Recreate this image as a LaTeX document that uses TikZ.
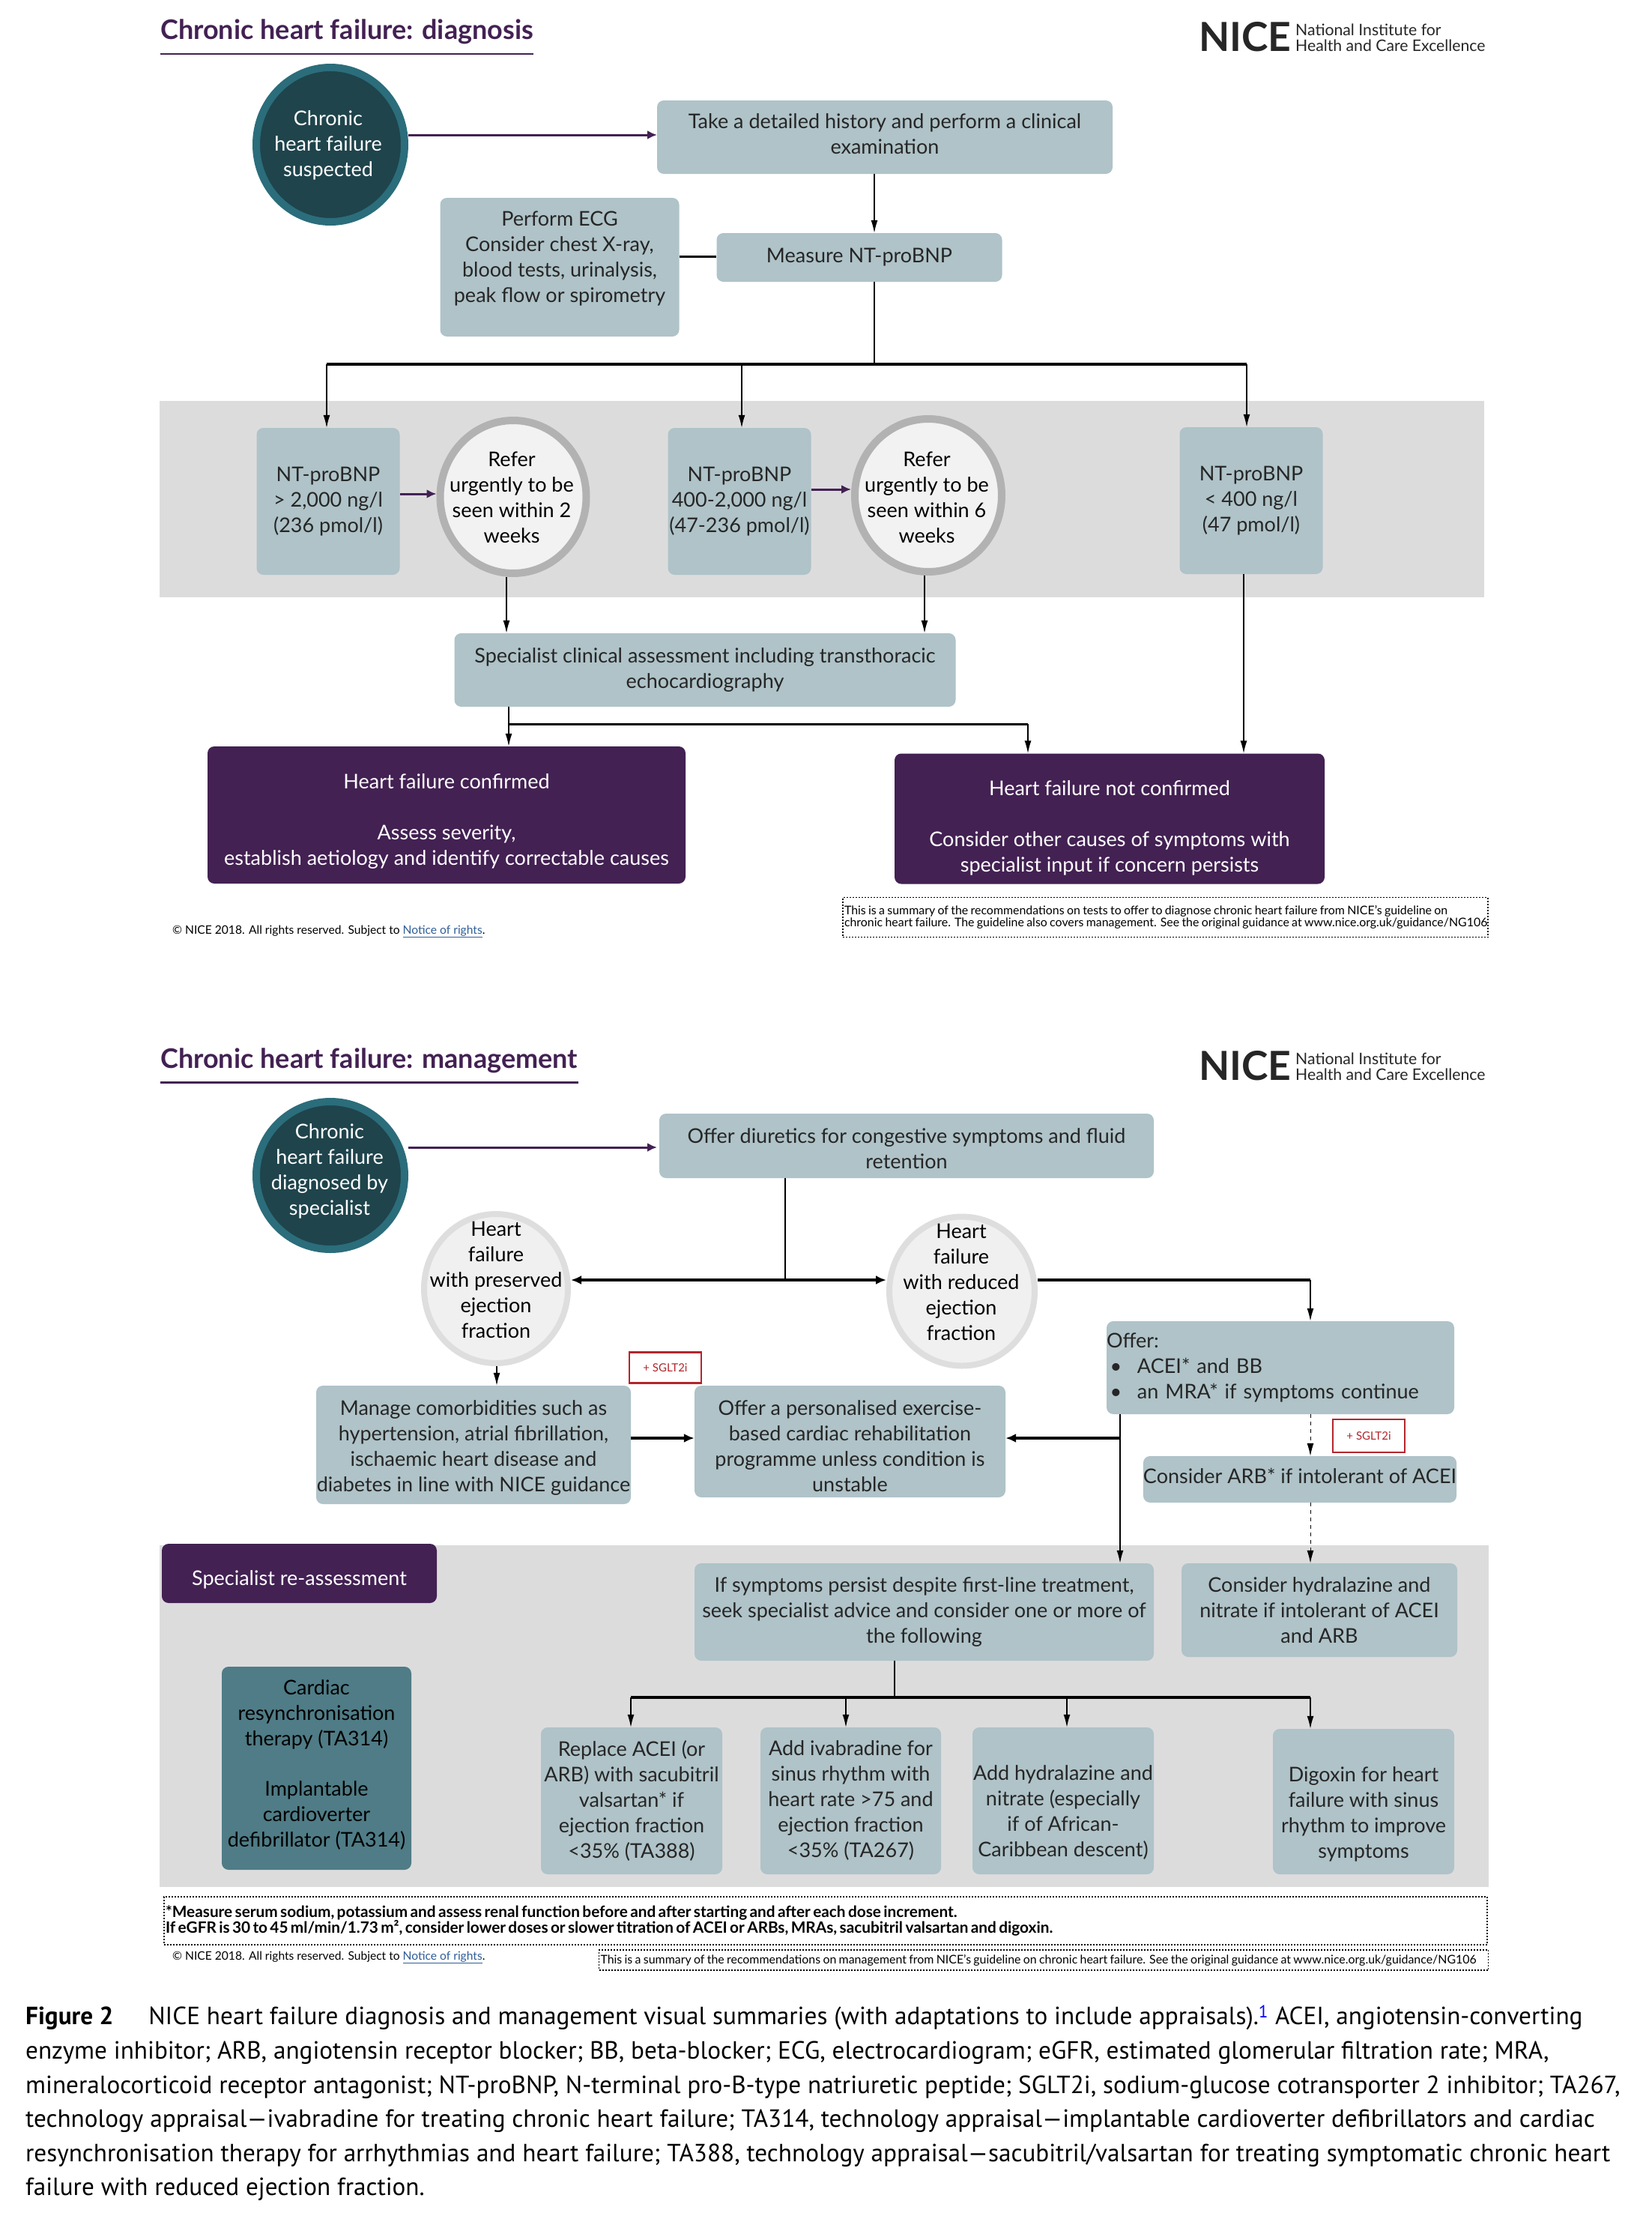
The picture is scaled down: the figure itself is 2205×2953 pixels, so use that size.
\documentclass[tikz,border=0pt]{standalone}
\usepackage{fontspec}
\setmainfont{Lato}
\newfontfamily\capfont{PT Sans}
\usepackage{tikz}
\usetikzlibrary{shapes.geometric,arrows.meta}

\definecolor{nicepurple}{HTML}{432153}
\definecolor{niceteal}{HTML}{AFC3C8}
\definecolor{panelgrey}{HTML}{DDDCDD}
\definecolor{darkcore}{HTML}{1F444C}
\definecolor{darkring}{HTML}{2B6D7B}
\definecolor{midteal}{HTML}{4F7C86}
\definecolor{linkblue}{HTML}{2F5D97}
\definecolor{sgltred}{HTML}{B3262C}

\tikzset{
	body/.style={font=\fontsize{27}{34}\selectfont, text=black!85, align=center, inner sep=0pt},
	tealbox/.style={body, fill=niceteal, rounded corners=9pt},
	darktealbox/.style={tealbox, fill=midteal, text=black},
	purplebox/.style={body, fill=nicepurple, text=white, rounded corners=9pt},
	panel/.style={fill=panelgrey, inner sep=0pt},
	startring/.style={ellipse, draw=darkring, fill=darkcore, line width=10pt, inner sep=0pt},
	referring/.style={ellipse, draw=black!30, fill=black!5, line width=10pt, inner sep=0pt},
	typering/.style={ellipse, draw=black!13, fill=black!6, line width=8pt, inner sep=0pt},
	whitetxt/.style={body, text=white},
	blacktxt/.style={body, text=black},
	titletxt/.style={font=\fontsize{36}{44}\selectfont\bfseries, text=nicepurple, anchor=west, inner sep=0pt},
	logoword/.style={font=\fontsize{53.5}{55}\selectfont\bfseries, text=black!85, anchor=west, inner sep=0pt},
	logotag/.style={font=\fontsize{21.2}{21}\selectfont, text=black!85, anchor=west, align=left, inner sep=0pt},
	notebox/.style={draw=black, line width=1.5pt, dash pattern=on 2pt off 2pt, align=left, inner sep=0pt},
	rights/.style={font=\fontsize{15.6}{18}\selectfont, anchor=west, inner sep=0pt},
	redbox/.style={draw=sgltred, fill=white, line width=2.5pt, text=sgltred, font=\fontsize{15}{18}\selectfont, inner sep=0pt},
	thinline/.style={draw=black, line width=1.4pt},
	heavyline/.style={draw=black, line width=3.5pt},
	arr/.style={thinline, -{Latex[length=17pt,width=9pt]}},
	heavyarr/.style={heavyline, -{Latex[length=14pt,width=12pt]}},
	purplearr/.style={draw=nicepurple, line width=3pt, -{Latex[length=13pt,width=12pt]}},
	dotarr/.style={draw=black, line width=1pt, dash pattern=on 5pt off 5pt, -{Latex[length=17pt,width=9pt]}},
}

\begin{document}
\begin{tikzpicture}[x=1pt, y=-1pt]
	\useasboundingbox (0,0) rectangle (2205,2953);

	\node[titletxt] (titleA) at (214,42) {Chronic heart failure: diagnosis};
	\draw[draw=nicepurple, line width=2pt] (214,72) -- (712,72);
	\node[logoword] (niceA) at (1600,49) {NICE};
	\node[logotag] (tagA) at (1729,50) {National Institute for\\Health and Care Excellence};

	\node[panel, minimum width=1768, minimum height=261.5] (panelA) at (1097,665.75) {};

	\node[startring, minimum width=198, minimum height=206] (suspected) at (441,193) {};
	\node[whitetxt] (suspectedText) at (438,194) {Chronic\\heart failure\\suspected};
	\node[tealbox, minimum width=608, minimum height=98] (history) at (1181,183) {Take a detailed history and perform a clinical\\examination\\[-26pt]\mbox{}};
	\node[tealbox, minimum width=319, minimum height=185] (ecg) at (747,356.5) {Perform ECG\\Consider chest X-ray,\\blood tests, urinalysis,\\peak flow or spirometry\\[-6pt]\mbox{}};
	\node[tealbox, minimum width=381, minimum height=65] (measure) at (1147,343.5) {Measure NT-proBNP};

	\node[tealbox, minimum width=191, minimum height=196] (highBnp) at (438,669) {NT-proBNP\\> 2,000 ng/l\\(236 pmol/l)};
	\node[referring, minimum width=195, minimum height=204] (referA) at (685,663) {};
	\node[blacktxt] (referAText) at (683,664) {Refer\\urgently to be\\seen within 2\\weeks};
	\node[tealbox, minimum width=191, minimum height=196] (midBnp) at (987,669) {NT-proBNP\\400-2,000 ng/l\\(47-236 pmol/l)};
	\node[referring, minimum width=196, minimum height=204] (referB) at (1239,661) {};
	\node[blacktxt] (referBText) at (1237,664) {Refer\\urgently to be\\seen within 6\\weeks};
	\node[tealbox, minimum width=191, minimum height=196] (lowBnp) at (1670,668) {NT-proBNP\\< 400 ng/l\\(47 pmol/l)};

	\node[tealbox, minimum width=669, minimum height=98] (echo) at (941,894) {Specialist clinical assessment including transthoracic\\echocardiography};
	\node[purplebox, minimum width=638, minimum height=183] (confirmed) at (596,1087.5) {\rule{0pt}{37pt}Heart failure confirmed\\[34pt]Assess severity,\\establish aetiology and identify correctable causes};
	\node[purplebox, minimum width=574, minimum height=174] (notconfirmed) at (1481,1092.5) {\rule{0pt}{44pt}Heart failure not confirmed\\[34pt]Consider other causes of symptoms with\\specialist input if concern persists};

	\node[notebox, minimum width=861, minimum height=53, text width=857] (summaryA) at (1555.5,1224) {\fontsize{15.9}{20}\selectfont\mbox{This is a summary of the recommendations on tests to offer to diagnose chronic heart failure from NICE's guideline on}\\\mbox{chronic heart failure. The guideline also covers management. See the original guidance at www.nice.org.uk/guidance/NG106}};
	\node[rights] (rightsA) at (230,1243) {© NICE 2018. All rights reserved. Subject to \textcolor{linkblue}{\underline{Notice of rights}}.};

	\coordinate (entryA) at (877,180);
	\coordinate (busA) at (1167,486);
	\coordinate (busAleft) at (436,486);
	\coordinate (busAmid) at (990,486);
	\coordinate (busAright) at (1664,486);
	\coordinate (linkA) at (1167,342);
	\coordinate (leftDrop) at (676,0);
	\coordinate (rightDrop) at (1234,0);
	\coordinate (farDrop) at (1660,0);
	\coordinate (forkA) at (679,966);
	\coordinate (forkB) at (1372,966);

	\draw[purplearr] (entryA -| suspected.east) -- (entryA);
	\draw[arr] (history.south -| busA) -- (measure.north -| busA);
	\draw[heavyline, line width=3pt] (ecg.east |- linkA) -- (measure.west |- linkA);
	\draw[thinline] (measure.south -| busA) -- (busA);
	\draw[heavyline] (busAleft) -- (busAright);
	\draw[arr] (busAleft) -- (busAleft |- highBnp.north);
	\draw[arr] (busAmid) -- (busAmid |- midBnp.north);
	\draw[arr] (busAright) -- (busAright |- lowBnp.north);
	\draw[purplearr] (highBnp.east |- 0,659) -- (referA.west |- 0,659);
	\draw[purplearr] (midBnp.east |- 0,653) -- (referB.west |- 0,653);
	\draw[arr] (leftDrop |- referA.south) -- (leftDrop |- echo.north);
	\draw[arr] (rightDrop |- referB.south) -- (rightDrop |- echo.north);
	\draw[arr] (farDrop |- lowBnp.south) -- (farDrop |- notconfirmed.north);
	\draw[arr] (forkA |- echo.south) -- (forkA |- confirmed.north);
	\draw[heavyline, line width=3pt] (forkA) -- (forkB);
	\draw[arr] (forkB) -- (forkB |- notconfirmed.north);

	\node[titletxt] (titleB) at (214,1415) {Chronic heart failure: management};
	\draw[draw=nicepurple, line width=3pt] (214,1444) -- (772,1444);
	\node[logoword] (niceB) at (1600,1422) {NICE};
	\node[logotag] (tagB) at (1729,1423) {National Institute for\\Health and Care Excellence};

	\node[panel, minimum width=1774, minimum height=456] (panelB) at (1100,2290) {};

	\node[startring, minimum width=198, minimum height=197] (diagnosed) at (441,1568.5) {};
	\node[whitetxt] (diagnosedText) at (440,1563) {Chronic\\heart failure\\diagnosed by\\specialist};
	\node[tealbox, minimum width=660, minimum height=86] (diuretics) at (1210,1529) {\rule{0pt}{27pt}Offer diuretics for congestive symptoms and fluid\\retention};
	\node[typering, minimum width=192, minimum height=199] (preserved) at (662,1719.5) {};
	\node[blacktxt] (preservedText) at (662,1708) {Heart\\failure\\with preserved\\ejection\\fraction};
	\node[typering, minimum width=194, minimum height=199] (reduced) at (1284,1723) {};
	\node[blacktxt] (reducedText) at (1283,1711) {Heart\\failure\\with reduced\\ejection\\fraction};
	\node[tealbox, minimum width=464, minimum height=124, text width=464, align=left] (offer) at (1709,1825) {Offer:\\\makebox[41pt][l]{\,\textbullet}ACEI* and BB\\\makebox[41pt][l]{\,\textbullet}an MRA* if symptoms continue};
	\node[redbox, minimum width=96, minimum height=41] (sgltA) at (888,1825) {+ SGLT2i};
	\node[redbox, minimum width=96, minimum height=44] (sgltB) at (1827,1916) {+ SGLT2i};
	\node[tealbox, minimum width=416, minimum height=62] (arb) at (1735,1974) {Consider ARB* if intolerant of ACEI\\[-24pt]\mbox{}};
	\node[tealbox, minimum width=420, minimum height=158] (comorbid) at (632,1928) {\rule{0pt}{28pt}Manage comorbidities such as\\hypertension, atrial fibrillation,\\ischaemic heart disease and\\diabetes in line with NICE guidance};
	\node[tealbox, minimum width=415, minimum height=149] (rehab) at (1134.5,1923.5) {\rule{0pt}{32pt}Offer a personalised exercise-\\based cardiac rehabilitation\\programme unless condition is\\unstable};

	\node[purplebox, minimum width=367, minimum height=79] (reassess) at (399.5,2099.5) {\rule{0pt}{37pt}Specialist re-assessment};
	\node[tealbox, minimum width=613, minimum height=130] (persist) at (1233.5,2151) {If symptoms persist despite first-line treatment,\\seek specialist advice and consider one or more of\\the following};
	\node[tealbox, minimum width=368, minimum height=125] (hydralazine) at (1761,2148.5) {Consider hydralazine and\\nitrate if intolerant of ACEI\\and ARB};
	\node[darktealbox, minimum width=253, minimum height=271] (cardiac) at (422.5,2359.5) {Cardiac\\resynchronisation\\therapy (TA314)\\[33pt]Implantable\\cardioverter\\defibrillator (TA314)\\[-22pt]\mbox{}};
	\node[tealbox, minimum width=242, minimum height=196] (replace) at (843,2403) {Replace ACEI (or\\ARB) with sacubitril\\valsartan* if\\ejection fraction\\<35\% (TA388)\\[-29pt]\mbox{}};
	\node[tealbox, minimum width=241, minimum height=196] (ivabradine) at (1135.5,2403) {Add ivabradine for\\sinus rhythm with\\heart rate >75 and\\ejection fraction\\<35\% (TA267)\\[-29pt]\mbox{}};
	\node[tealbox, minimum width=242, minimum height=196] (nitrate) at (1419,2403) {\rule{0pt}{50pt}Add hydralazine and\\nitrate (especially\\if of African-\\Caribbean descent)};
	\node[tealbox, minimum width=242, minimum height=194] (digoxin) at (1820,2404) {\rule{0pt}{54pt}Digoxin for heart\\failure with sinus\\rhythm to improve\\symptoms};

	\node[notebox, minimum width=1766, minimum height=64, text width=1762] (measureNote) at (1102,2563) {\fontsize{20.8}{24}\selectfont\bfseries\mbox{*Measure serum sodium, potassium and assess renal function before and after starting and after each dose increment.}\\\mbox{If eGFR is 30 to 45 ml/min/1.73 m², consider lower doses or slower titration of ACEI or ARBs, MRAs, sacubitril valsartan and digoxin.}};
	\node[notebox, minimum width=1187, minimum height=27, text width=1183] (summaryB) at (1393,2615.5) {\fontsize{15.9}{20}\selectfont\mbox{This is a summary of the recommendations on management from NICE's guideline on chronic heart failure. See the original guidance at www.nice.org.uk/guidance/NG106}};
	\node[rights] (rightsB) at (230,2612) {© NICE 2018. All rights reserved. Subject to \textcolor{linkblue}{\underline{Notice of rights}}.};

	\coordinate (entryB) at (877,1531);
	\coordinate (forkC) at (1048,1708);
	\coordinate (turnC) at (1749,1708);
	\coordinate (sideD) at (1495,1919);
	\coordinate (rehabIn) at (925,1919);
	\coordinate (dropC) at (663,0);
	\coordinate (busB) at (1194,2265);
	\coordinate (busBleft) at (842,2265);
	\coordinate (busBsecond) at (1129,2265);
	\coordinate (busBthird) at (1424,2265);
	\coordinate (busBright) at (1749,2265);

	\draw[purplearr] (entryB -| diagnosed.east) -- (entryB);
	\draw[thinline] (forkC |- diuretics.south) -- (forkC);
	\draw[heavyarr] (forkC) -- (forkC -| preserved.east);
	\draw[heavyarr] (forkC) -- (forkC -| reduced.west);
	\draw[heavyline] (forkC -| reduced.east) -- (turnC);
	\draw[arr] (turnC) -- (turnC |- offer.north);
	\draw[arr] (dropC |- preserved.south) -- (dropC |- comorbid.north);
	\draw[heavyarr] (rehabIn -| comorbid.east) -- (rehabIn -| rehab.west);
	\draw[thinline] (sideD |- offer.south) -- (sideD);
	\draw[heavyarr] (sideD) -- (sideD -| rehab.east);
	\draw[arr] (sideD) -- (sideD |- persist.north);
	\draw[dotarr] (turnC |- offer.south) -- (turnC |- arb.north);
	\draw[dotarr] (turnC |- arb.south) -- (turnC |- hydralazine.north);
	\draw[thinline] (busB |- persist.south) -- (busB);
	\draw[heavyline] (busBleft) -- (busBright);
	\draw[arr] (busBleft) -- (busBleft |- replace.north);
	\draw[arr] (busBsecond) -- (busBsecond |- ivabradine.north);
	\draw[arr] (busBthird) -- (busBthird |- nitrate.north);
	\draw[arr] (busBright) -- (busBright |- digoxin.north);

	\node[anchor=north west, align=left, inner sep=0pt, font=\fontsize{33.2}{45.6}\selectfont\capfont] (caption) at (34,2676) {\mbox{{\bfseries Figure 2}\hspace{47pt}NICE heart failure diagnosis and management visual summaries (with adaptations to include appraisals).\textcolor{blue}{\textsuperscript{1}} ACEI, angiotensin-converting}\\\mbox{enzyme inhibitor; ARB, angiotensin receptor blocker; BB, beta-blocker; ECG, electrocardiogram; eGFR, estimated glomerular filtration rate; MRA,}\\\mbox{mineralocorticoid receptor antagonist; NT-proBNP, N-terminal pro-B-type natriuretic peptide; SGLT2i, sodium-glucose cotransporter 2 inhibitor; TA267,}\\\mbox{technology appraisal—ivabradine for treating chronic heart failure; TA314, technology appraisal—implantable cardioverter defibrillators and cardiac}\\\mbox{resynchronisation therapy for arrhythmias and heart failure; TA388, technology appraisal—sacubitril/valsartan for treating symptomatic chronic heart}\\\mbox{failure with reduced ejection fraction.}};
\end{tikzpicture}
\end{document}
